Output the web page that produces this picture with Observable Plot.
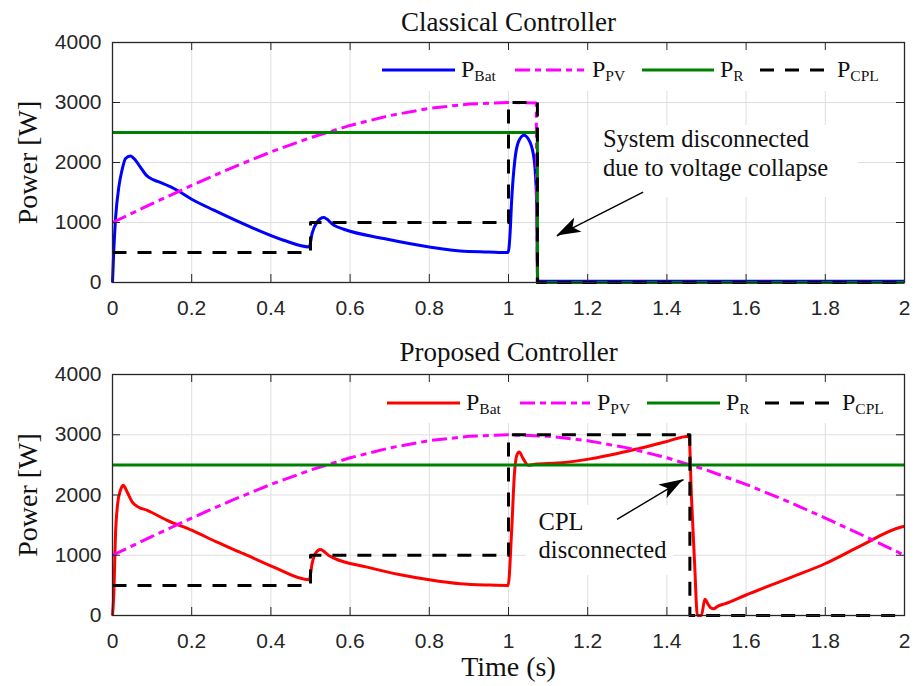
<!DOCTYPE html>
<html>
<head>
<meta charset="utf-8">
<script src="https://cdn.jsdelivr.net/npm/d3@7"></script>
<script src="https://cdn.jsdelivr.net/npm/@observablehq/plot@0.6"></script>
<style>
  body { margin: 0; background: #fff; }
  #chart { width: 918px; }
  #chart svg { display: block; }
</style>
</head>
<body>
<div id="chart"></div>
<script>
// ---------- data ----------
const xTicks = [0, 0.2, 0.4, 0.6, 0.8, 1, 1.2, 1.4, 1.6, 1.8, 2];
const xTickLabels = ["0", "0.2", "0.4", "0.6", "0.8", "1", "1.2", "1.4", "1.6", "1.8", "2"];
const yTicks = [0, 1000, 2000, 3000, 4000];
const yTickLabels = ["0", "1000", "2000", "3000", "4000"];
const panelTitles = ["Classical Controller", "Proposed Controller"];
const legendNames = [["P", "Bat"], ["P", "PV"], ["P", "R"], ["P", "CPL"]];
const xLabel = "Time (s)";
const yLabel = "Power [W]";

// PV power (same profile in both panels, read every 0.1 s)
const pvTime  = [0, 0.1, 0.2, 0.3, 0.4, 0.5, 0.6, 0.7, 0.8, 0.9, 1.0, 1.1, 1.2, 1.3, 1.4, 1.5, 1.6, 1.7, 1.8, 1.9, 2.0];
const pvPower = [1000, 1313, 1618, 1908, 2176, 2414, 2618, 2782, 2902, 2975, 3000, 2975, 2902, 2782, 2618, 2414, 2176, 1908, 1618, 1313, 1000];

// Classical controller
const clPvTime  = [0, 0.1, 0.2, 0.3, 0.4, 0.5, 0.6, 0.7, 0.8, 0.9, 1.0, 1.07, 1.073, 2.0];
const clPvPower = [1000, 1313, 1618, 1908, 2176, 2414, 2618, 2782, 2902, 2975, 3000, 2990, 0, 0];
const clBatTime  = [0, 0.003, 0.008, 0.016, 0.024, 0.033, 0.045, 0.058, 0.07, 0.085, 0.1, 0.114, 0.155, 0.2, 0.256, 0.348, 0.432, 0.497,
                    0.504, 0.517, 0.533, 0.559, 0.584, 0.685, 0.8, 0.878, 0.95, 0.999,
                    1.004, 1.008, 1.016, 1.025, 1.039, 1.054, 1.065, 1.071, 1.074, 2.0];
const clBatPower = [0, 500, 1093, 1593, 1872, 2067, 2110, 2038, 1927, 1790, 1720, 1685, 1567, 1388, 1205, 927, 705, 593,
                    817, 1010, 1083, 955, 888, 733, 593, 527, 510, 500,
                    817, 1372, 2038, 2343, 2455, 2343, 2038, 1372, 20, 20];
const clRefTime  = [0, 1.073, 1.073, 2.0];
const clRefPower = [2500, 2500, 0, 0];
const clCplTime  = [0, 0.5, 0.5, 1.0, 1.0, 1.073, 1.073, 2.0];
const clCplPower = [500, 500, 1000, 1000, 3000, 3000, 0, 0];

// Proposed controller
const prBatTime  = [0, 0.003, 0.008, 0.013, 0.02, 0.027, 0.037, 0.05, 0.062, 0.088, 0.138, 0.201, 0.264, 0.331, 0.407, 0.497,
                    0.504, 0.512, 0.525, 0.546, 0.559, 0.643, 0.727, 0.8, 0.878, 0.95, 0.999,
                    1.008, 1.015, 1.021, 1.027, 1.037, 1.05, 1.067, 1.125, 1.21, 1.328, 1.395, 1.456,
                    1.462, 1.47, 1.477, 1.487, 1.496, 1.503, 1.51, 1.517, 1.53, 1.546, 1.597, 1.715, 1.799, 1.883, 1.992, 2.0];
const prBatPower = [0, 304, 1412, 1856, 2077, 2160, 2050, 1883, 1811, 1745, 1579, 1412, 1218, 1025, 803, 593,
                    859, 1025, 1097, 997, 953, 803, 676, 593, 527, 505, 498,
                    1412, 2355, 2659, 2714, 2604, 2493, 2510, 2531, 2604, 2770, 2880, 2975,
                    1966, 859, 0, 0, 270, 200, 130, 111, 160, 194, 332, 637, 859, 1135, 1468, 1480];
const prRefTime  = [0, 2.0];
const prRefPower = [2500, 2500];
const prCplTime  = [0, 0.5, 0.5, 1.0, 1.0, 1.458, 1.458, 2.0];
const prCplPower = [500, 500, 1000, 1000, 3000, 3000, 0, 0];

// annotations (data coordinates)
const annotTexts = [["System disconnected", "due to voltage collapse"], ["CPL", "disconnected"]];
const annotX = [1.2385, 1.076];
const annotY = [2175, 1340];
const arrowTail = [[1.340, 1505], [1.274, 1595]];
const arrowTip  = [[1.1224, 777], [1.442, 2255]];

// ---------- helpers ----------
const rows = (T, P) => T.map((t, i) => ({t, p: P[i]}));
const SERIF = "'Liberation Serif', 'DejaVu Serif', serif";
const SANS = "'Liberation Sans', Arial, sans-serif";
const AX = "#262626";
const GRID = "#dfdfdf";
const SVGNS = "http://www.w3.org/2000/svg";

function panel(cfg) {
  const W = 918, mL = 112, mR = 14;
  const plotW = W - mL - mR;
  const plotH = cfg.height - cfg.marginTop - cfg.marginBottom;
  const lineOpts = (s) => ({x: "t", y: "p", stroke: s.stroke, strokeWidth: 3,
    strokeDasharray: s.dash, strokeLinecap: "butt", strokeLinejoin: "round", curve: s.curve || "linear"});
  const ai = cfg.index;
  const svg = Plot.plot({
    width: W, height: cfg.height,
    marginLeft: mL, marginRight: mR, marginTop: cfg.marginTop, marginBottom: cfg.marginBottom,
    style: {background: "#fff", color: AX, overflow: "visible"},
    x: {domain: [0, 2], ticks: xTicks, label: null},
    y: {domain: [0, 4000], ticks: yTicks, label: null},
    marks: [
      Plot.gridX(xTicks, {stroke: GRID, strokeOpacity: 1, strokeWidth: 1}),
      Plot.gridY(yTicks, {stroke: GRID, strokeOpacity: 1, strokeWidth: 1}),
      ...cfg.series.map(s => Plot.line(s.data, lineOpts(s))),
      Plot.ruleX(xTicks, {x: d => d, insetTop: plotH - 8, stroke: AX, strokeWidth: 1}),
      Plot.ruleX(xTicks, {x: d => d, insetBottom: plotH - 8, stroke: AX, strokeWidth: 1}),
      Plot.ruleY(yTicks, {y: d => d, insetRight: plotW - 8, stroke: AX, strokeWidth: 1}),
      Plot.ruleY(yTicks, {y: d => d, insetLeft: plotW - 8, stroke: AX, strokeWidth: 1}),
      Plot.frame({stroke: AX, strokeWidth: 1.3}),
      Plot.axisX(xTicks, {tickSize: 0, tickPadding: 18, fontSize: 21, fontFamily: SANS, fill: AX,
        tickFormat: (d, i) => xTickLabels[i], label: null}),
      Plot.axisY(yTicks, {tickSize: 0, tickPadding: 11, fontSize: 21, fontFamily: SANS, fill: AX,
        tickFormat: (d, i) => yTickLabels[i], label: null}),
      Plot.text([panelTitles[ai]], {frameAnchor: "top", dy: cfg.titleDy, lineAnchor: "bottom",
        fontSize: 27, fontFamily: SERIF, fill: "#111"}),
      Plot.text([yLabel], {frameAnchor: "left", dx: -84, rotate: -90, textAnchor: "middle",
        fontSize: 28, fontFamily: SERIF, fill: "#111"}),
      cfg.showXLabel ? Plot.text([xLabel], {frameAnchor: "bottom", dy: 60, lineAnchor: "bottom",
        fontSize: 28, fontFamily: SERIF, fill: "#111"}) : null,
      Plot.text([annotTexts[ai].join("\n")], {x: annotX[ai], y: annotY[ai], textAnchor: "start",
        lineAnchor: "middle", lineHeight: 1.17, fontSize: 24.5, fontFamily: SERIF, fill: "#111"}),
      Plot.link([0], {x1: arrowTail[ai][0], y1: arrowTail[ai][1], x2: arrowTip[ai][0], y2: arrowTip[ai][1],
        stroke: "#000", strokeWidth: 1.4})
    ].filter(Boolean)
  });

  // ---- decorations: white boxes behind legend & annotation, legend, arrowhead ----
  const xs = svg.scale("x"), ys = svg.scale("y");
  const gridG = svg.querySelector('g[aria-label="y-grid"]');
  const mt = cfg.marginTop;
  const boxes = [
    [375, mt + 1, 903, mt + 49],
    cfg.annotBox
  ];
  boxes.reverse().forEach(([x0, y0, x1, y1]) => {
    const r = document.createElementNS(SVGNS, "rect");
    r.setAttribute("x", x0); r.setAttribute("y", y0);
    r.setAttribute("width", x1 - x0); r.setAttribute("height", y1 - y0);
    r.setAttribute("fill", "#fff");
    if (gridG) gridG.after(r); else svg.appendChild(r);
  });

  const g = d3.select(svg).append("g").attr("text-anchor", "start");
  const ly = mt + cfg.legendDy;
  cfg.series.forEach((s, i) => {
    const [a, b] = cfg.legendLines[i];
    g.append("line").attr("x1", a).attr("x2", b).attr("y1", ly).attr("y2", ly)
      .attr("stroke", s.stroke).attr("stroke-width", 3)
      .attr("stroke-dasharray", s.dash || null);
    const t = g.append("text").attr("x", cfg.legendText[i]).attr("y", ly + 7)
      .attr("text-anchor", "start")
      .attr("font-family", SERIF).attr("font-size", 24).attr("fill", "#111");
    t.append("tspan").text(legendNames[i][0]);
    t.append("tspan").attr("font-size", 15.5).attr("dy", 3.5).text(legendNames[i][1]);
  });

  // arrowhead
  const T = [xs.apply(arrowTip[ai][0]), ys.apply(arrowTip[ai][1])];
  const S = [xs.apply(arrowTail[ai][0]), ys.apply(arrowTail[ai][1])];
  const len = Math.hypot(T[0] - S[0], T[1] - S[1]);
  const u = [(T[0] - S[0]) / len, (T[1] - S[1]) / len];
  const n = [-u[1], u[0]];
  const L = 24, Wd = 8, N = 18;
  const p1 = [T[0] - L * u[0] + Wd * n[0], T[1] - L * u[1] + Wd * n[1]];
  const p2 = [T[0] - N * u[0], T[1] - N * u[1]];
  const p3 = [T[0] - L * u[0] - Wd * n[0], T[1] - L * u[1] - Wd * n[1]];
  g.append("path").attr("d", `M${T}L${p1}L${p2}L${p3}Z`).attr("fill", "#000");
  return svg;
}

const dash = "14,11";
const dashDot = "15,5,6,5";

const topPanel = panel({
  index: 0, height: 330, marginTop: 42, marginBottom: 48, titleDy: -12, showXLabel: false,
  legendDy: 28,
  legendLines: [[382, 455], [515, 584], [642, 714], [760, 830]],
  legendText: [461, 592, 720, 837],
  annotBox: [591, 125, 858, 197],
  series: [
    {data: rows(clBatTime, clBatPower), stroke: "#0000ff", curve: "monotone-x"},
    {data: rows(clPvTime, clPvPower), stroke: "#ff00ff", dash: dashDot},
    {data: rows(clRefTime, clRefPower), stroke: "#008000"},
    {data: rows(clCplTime, clCplPower), stroke: "#000000", dash: dash}
  ]
});

const bottomPanel = panel({
  index: 1, height: 356, marginTop: 44, marginBottom: 71, titleDy: -14, showXLabel: true,
  legendDy: 29,
  legendLines: [[387, 460], [520, 590], [647, 720], [765, 835]],
  legendText: [466, 597, 726, 842],
  annotBox: [526, 505 - 330, 673, 575 - 330],
  series: [
    {data: rows(prBatTime, prBatPower), stroke: "#ff0000", curve: "monotone-x"},
    {data: rows(pvTime, pvPower), stroke: "#ff00ff", dash: dashDot},
    {data: rows(prRefTime, prRefPower), stroke: "#008000"},
    {data: rows(prCplTime, prCplPower), stroke: "#000000", dash: dash}
  ]
});

document.getElementById("chart").append(topPanel, bottomPanel);
</script>
</body>
</html>
